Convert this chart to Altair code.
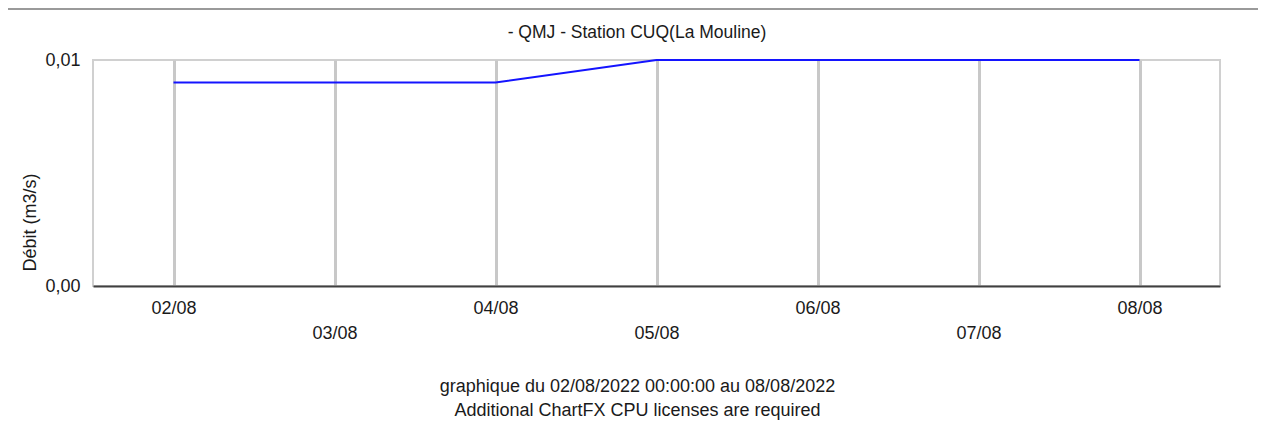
import altair as alt
import pandas as pd

# ---- data ----
dates = ["2022-08-02", "2022-08-03", "2022-08-04", "2022-08-05",
         "2022-08-06", "2022-08-07", "2022-08-08"]
debit = [0.009, 0.009, 0.009, 0.01, 0.01, 0.01, 0.01]
tick_days = [2, 3, 4, 5, 6, 7, 8]
y_ticks = [0.0, 0.01]
chart_title = "- QMJ - Station CUQ(La Mouline)"
y_title = "Débit (m3/s)"
footer = ["graphique du 02/08/2022 00:00:00 au 08/08/2022",
          "Additional ChartFX CPU licenses are required"]

df = pd.DataFrame({"date": dates, "debit": debit})

FONT = "Liberation Sans"
TXT = "#1a1a1a"
FS = 18

x_enc = alt.X(
    "date:T",
    scale=alt.Scale(
        type="utc",
        domain=[alt.DateTime(year=2022, month=8, date=1, hours=12, utc=True),
                alt.DateTime(year=2022, month=8, date=8, hours=12, utc=True)],
    ),
    axis=alt.Axis(
        values=[alt.DateTime(year=2022, month=8, date=d, utc=True) for d in tick_days],
        labelExpr="utcdate(datum.value) % 2 == 0 ? utcFormat(datum.value, '%d/%m') : ['', utcFormat(datum.value, '%d/%m')]",
        labelLineHeight=25,
        labelBaseline="top",
        labelPadding=13,
        labelOverlap=False,
        labelFlush=False,
        labelBound=False,
        labelFontSize=FS,
        labelColor=TXT,
        labelFont=FONT,
        ticks=False,
        domain=True,
        domainColor="#404040",
        domainWidth=2,
        grid=True,
        gridColor="#C8C8C8",
        gridWidth=3,
        title=footer,
        titleX=544,
        titleY=91,
        titleAlign="center",
        titleBaseline="top",
        titleAngle=0,
        titleLineHeight=24,
        titleFontWeight="normal",
        titleFontSize=FS,
        titleFont=FONT,
        titleColor=TXT,
    ),
)

y_enc = alt.Y(
    "debit:Q",
    scale=alt.Scale(domain=[0, 0.01], nice=False, zero=True),
    axis=alt.Axis(
        values=y_ticks,
        labelExpr="replace(format(datum.value, '.2f'), '.', ',')",
        labelPadding=13,
        labelFontSize=FS,
        labelColor=TXT,
        labelFont=FONT,
        labelBaseline="middle",
        ticks=False,
        domain=False,
        grid=False,
        title=y_title,
        titleX=-63,
        titleY=162,
        titleAngle=270,
        titleAlign="center",
        titleBaseline="middle",
        titleFontWeight="normal",
        titleFontSize=FS,
        titleFont=FONT,
        titleColor=TXT,
    ),
)

line = alt.Chart(df).mark_line(color="#1414FF", strokeWidth=2).encode(x=x_enc, y=y_enc)

border = alt.Chart(alt.Data(values=[{}])).mark_rule(color="#9a9a9a", strokeWidth=2).encode(
    x=alt.value(-85), x2=alt.value(1165), y=alt.value(-51)
)

title_mark = alt.Chart(alt.Data(values=[{}])).mark_text(
    fontSize=17.5, font=FONT, color=TXT, align="center", baseline="middle"
).encode(
    x=alt.value(544), y=alt.value(-27), text=alt.value(chart_title)
)

chart = alt.layer(line, border, title_mark).properties(
    width=1127,
    height=226,
    autosize=alt.AutoSizeParams(type="none"),
    padding={"left": 85, "top": 52, "right": 38, "bottom": 134},
    background="#FFFFFF",
).configure_view(stroke="#D0D0D0", strokeWidth=2)

chart.save("out.html", embed_options={"renderer": "svg", "actions": False})
